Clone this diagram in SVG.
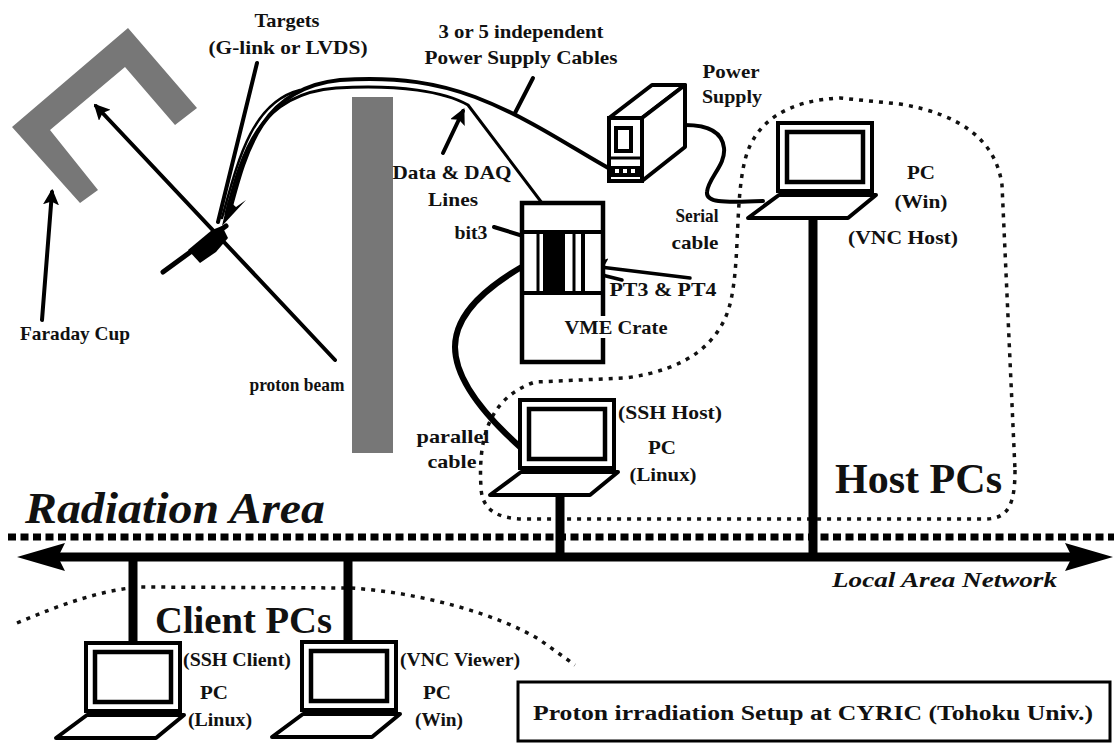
<svg xmlns="http://www.w3.org/2000/svg" xmlns:xlink="http://www.w3.org/1999/xlink" width="1114" height="743" viewBox="0 0 1114 743">
  <defs>
    <style>
      .lbl { font-family: "Liberation Serif", "Times New Roman", serif; font-weight: bold; font-size: 19px; fill: #111; text-anchor: middle; }
      .big { font-family: "Liberation Serif", "Times New Roman", serif; font-weight: bold; fill: #111; }
      .ln { fill: none; stroke: #000; stroke-linecap: round; stroke-linejoin: round; }
      .dot { fill: none; stroke: #111; stroke-width: 3.5; stroke-dasharray: 4 6; }
      .gray { fill: #777; }
    </style>
    <marker id="ah" viewBox="0 0 10 10" refX="8" refY="5" markerWidth="4" markerHeight="4" orient="auto" markerUnits="strokeWidth">
      <path d="M0,0 L10,5 L0,10 L2,5 Z" fill="#000"/>
    </marker>
    <marker id="ah-lg" viewBox="0 0 10 10" refX="8" refY="5" markerWidth="5.5" markerHeight="5.5" orient="auto" markerUnits="strokeWidth">
      <path d="M0,0 L10,5 L0,10 L2,5 Z" fill="#000"/>
    </marker>
    <!-- laptop icon: screen frame, inner screen, keyboard base -->
    <g id="laptop">
      <rect x="0" y="0" width="94" height="68" fill="#fff" stroke="#000" stroke-width="4"/>
      <rect x="9" y="9" width="76" height="50" fill="#fff" stroke="#000" stroke-width="4.5"/>
      <path d="M1,72 L98,72 L70,95 L-30,95 Z" fill="#fff" stroke="#000" stroke-width="4" stroke-linejoin="round"/>
    </g>
  </defs>

  <rect width="1114" height="743" fill="#fff"/>

  <!-- shielding wall -->
  <g id="wall">
    <rect class="gray" x="352" y="97" width="41" height="356"/>
  </g>

  <!-- Faraday cup -->
  <g id="faraday-cup">
    <polygon class="gray" points="12,127 128,28 197,108 175,125 125,67 50,130 98,190 80,203"/>
    <text class="lbl" x="75" y="340" textLength="110" lengthAdjust="spacingAndGlyphs">Faraday Cup</text>
  </g>

  <!-- region boundaries -->
  <g id="host-region">
    <path class="dot" d="M1015,470 C1015,505 1008,519 985,519 L525,519 C495,519 482,508 481,488 C478,440 488,398 535,382 L625,378 C688,370 722,342 731,300 C740,258 735,200 745,160 C755,120 790,100 840,98 L900,104 C960,114 996,140 1002,185 Z"/>
    <text class="big" x="835" y="493" font-size="42" textLength="167" lengthAdjust="spacingAndGlyphs">Host PCs</text>
  </g>
  <g id="client-region">
    <path class="dot" d="M17,623 C60,605 100,590 140,587 L350,588 C420,592 500,615 540,640 L575,665"/>
    <text class="big" x="155" y="633" font-size="38" textLength="177" lengthAdjust="spacingAndGlyphs">Client PCs</text>
  </g>
  <g id="radiation-area">
    <line x1="8" y1="537" x2="1114" y2="537" stroke="#000" stroke-width="7" stroke-dasharray="8 4.5"/>
    <text class="big" x="25" y="523" font-size="44" font-style="italic" textLength="300" lengthAdjust="spacingAndGlyphs">Radiation Area</text>
  </g>

  <!-- connectors -->
  <g id="connectors">
    <!-- cables from target -->
    <path class="ln" stroke-width="4" d="M230,210 C246,150 262,88 340,80 C400,76 440,84 475,97 C530,118 575,150 612,170"/>
    <path class="ln" stroke-width="3" d="M226,214 C242,152 258,94 336,88 C400,84 445,92 468,105 L573,244"/>
    <path class="ln" stroke-width="2.5" d="M222,218 C238,160 252,102 300,90"/>
    <polygon points="222,226 228,200 236,207 246,200" fill="#000"/>
    <!-- serial cable -->
    <path class="ln" stroke-width="4" d="M685,125 C705,125 722,130 724,148 C726,165 708,178 707,192 C706,202 720,203 763,201"/>
    <!-- parallel cable -->
    <path class="ln" stroke-width="6" d="M525,265 C490,285 455,312 455,347 C455,382 490,420 520,447"/>
    <!-- pointer lines -->
    <line class="ln" stroke-width="4" x1="257" y1="63" x2="218" y2="222"/>
    <line class="ln" stroke-width="4" x1="533" y1="78" x2="515" y2="113"/>
    <line class="ln" stroke-width="4" x1="443" y1="153" x2="463" y2="111" marker-end="url(#ah)"/>
    <line class="ln" stroke-width="4" x1="42" y1="320" x2="52" y2="192" marker-end="url(#ah)"/>
    <line class="ln" stroke-width="4" x1="335" y1="360" x2="96" y2="106" marker-end="url(#ah)"/>
    <line class="ln" stroke-width="4" x1="494" y1="227" x2="536" y2="240" marker-end="url(#ah)"/>
    <line class="ln" stroke-width="3.5" x1="690" y1="278" x2="592" y2="266" marker-end="url(#ah-lg)"/>
    <line class="ln" stroke-width="3.5" x1="622" y1="280" x2="574" y2="268" marker-end="url(#ah-lg)"/>
    <!-- LAN backbone and drops -->
    <line x1="55" y1="557" x2="1075" y2="557" stroke="#000" stroke-width="9"/>
    <polygon points="17,557 65,543 58,557 65,571" fill="#000"/>
    <polygon points="1113,557 1065,543 1072,557 1065,571" fill="#000"/>
    <line x1="813" y1="218" x2="813" y2="557" stroke="#000" stroke-width="9"/>
    <line x1="560" y1="495" x2="560" y2="557" stroke="#000" stroke-width="9"/>
    <line x1="133" y1="557" x2="133" y2="643" stroke="#000" stroke-width="9"/>
    <line x1="348" y1="557" x2="348" y2="642" stroke="#000" stroke-width="9"/>
    <text class="big" x="832" y="587" font-size="20" font-style="italic" textLength="225" lengthAdjust="spacingAndGlyphs">Local Area Network</text>
  </g>

  <!-- target on the beam line -->
  <g id="target">
    <line class="ln" stroke-width="5" x1="163" y1="272" x2="226" y2="226"/>
    <polygon points="188,250 212,230 222,226 228,238 216,252 200,263" fill="#000"/>
    <text class="lbl" x="287" y="27" textLength="65" lengthAdjust="spacingAndGlyphs">Targets</text>
    <text class="lbl" x="288" y="54" textLength="159" lengthAdjust="spacingAndGlyphs">(G-link or LVDS)</text>
    <text class="lbl" x="297" y="391" textLength="95" lengthAdjust="spacingAndGlyphs">proton beam</text>
  </g>

  <g id="cable-labels">
    <text class="lbl" x="521" y="38" textLength="165" lengthAdjust="spacingAndGlyphs">3 or 5 independent</text>
    <text class="lbl" x="521" y="64" textLength="193" lengthAdjust="spacingAndGlyphs">Power Supply Cables</text>
    <text class="lbl" x="452" y="179" textLength="119" lengthAdjust="spacingAndGlyphs">Data &amp; DAQ</text>
    <text class="lbl" x="453" y="206" textLength="50" lengthAdjust="spacingAndGlyphs">Lines</text>
    <text class="lbl" x="697" y="222" textLength="43" lengthAdjust="spacingAndGlyphs">Serial</text>
    <text class="lbl" x="695" y="249" textLength="47" lengthAdjust="spacingAndGlyphs">cable</text>
    <text class="lbl" x="453" y="443" textLength="73" lengthAdjust="spacingAndGlyphs">parallel</text>
    <text class="lbl" x="452" y="468" textLength="49" lengthAdjust="spacingAndGlyphs">cable</text>
  </g>

  <!-- power supply -->
  <g id="power-supply">
    <path d="M609,118 L652,85 L685,85 L642,118 Z" fill="#fff" stroke="#000" stroke-width="4" stroke-linejoin="round"/>
    <path d="M642,118 L685,85 L685,147 L642,181 Z" fill="#fff" stroke="#000" stroke-width="4" stroke-linejoin="round"/>
    <rect x="609" y="118" width="33" height="63" fill="#fff" stroke="#000" stroke-width="4"/>
    <rect x="616" y="128" width="15" height="23" fill="#fff" stroke="#000" stroke-width="4"/>
    <line x1="609" y1="158" x2="642" y2="158" stroke="#000" stroke-width="3"/>
    <rect x="611" y="166" width="29" height="11" fill="#000"/>
    <rect x="615" y="169" width="4" height="4" fill="#fff"/>
    <rect x="623" y="169" width="4" height="4" fill="#fff"/>
    <rect x="631" y="169" width="4" height="4" fill="#fff"/>
    <text class="lbl" x="731" y="78" textLength="57" lengthAdjust="spacingAndGlyphs">Power</text>
    <text class="lbl" x="732" y="103" textLength="60" lengthAdjust="spacingAndGlyphs">Supply</text>
  </g>

  <!-- VME crate -->
  <g id="vme-crate">
    <rect x="522" y="203" width="81" height="159" fill="#fff" stroke="#000" stroke-width="4.5"/>
    <line x1="522" y1="232" x2="603" y2="232" stroke="#000" stroke-width="4"/>
    <line x1="522" y1="293" x2="603" y2="293" stroke="#000" stroke-width="4"/>
    <line x1="538" y1="232" x2="538" y2="293" stroke="#000" stroke-width="3"/>
    <rect x="543" y="232" width="22" height="61" fill="#000"/>
    <line x1="574" y1="232" x2="574" y2="293" stroke="#000" stroke-width="3"/>
    <line x1="583" y1="232" x2="583" y2="293" stroke="#000" stroke-width="4"/>
    <text class="lbl" x="471" y="239" textLength="33" lengthAdjust="spacingAndGlyphs">bit3</text>
    <text class="lbl" x="663" y="296" textLength="107" lengthAdjust="spacingAndGlyphs">PT3 &amp; PT4</text>
    <rect x="563" y="316" width="108" height="22" fill="#fff"/>
    <text class="lbl" x="616" y="334" textLength="103" lengthAdjust="spacingAndGlyphs">VME Crate</text>
  </g>

  <!-- host PCs -->
  <g id="pc-win-host">
    <use xlink:href="#laptop" x="778" y="123"/>
    <text class="lbl" x="921" y="179" textLength="28" lengthAdjust="spacingAndGlyphs">PC</text>
    <text class="lbl" x="921" y="208" textLength="53" lengthAdjust="spacingAndGlyphs">(Win)</text>
    <text class="lbl" x="903" y="244" textLength="110" lengthAdjust="spacingAndGlyphs">(VNC Host)</text>
  </g>
  <g id="pc-linux-host">
    <use xlink:href="#laptop" x="520" y="400"/>
    <text class="lbl" x="670" y="419" textLength="104" lengthAdjust="spacingAndGlyphs">(SSH Host)</text>
    <text class="lbl" x="662" y="454" textLength="28" lengthAdjust="spacingAndGlyphs">PC</text>
    <text class="lbl" x="663" y="481" textLength="67" lengthAdjust="spacingAndGlyphs">(Linux)</text>
  </g>

  <!-- client PCs -->
  <g id="pc-linux-client">
    <use xlink:href="#laptop" x="86" y="643"/>
    <text class="lbl" x="237" y="666" textLength="108" lengthAdjust="spacingAndGlyphs">(SSH Client)</text>
    <text class="lbl" x="214" y="699" textLength="28" lengthAdjust="spacingAndGlyphs">PC</text>
    <text class="lbl" x="220" y="726" textLength="64" lengthAdjust="spacingAndGlyphs">(Linux)</text>
  </g>
  <g id="pc-win-client">
    <use xlink:href="#laptop" x="302" y="642"/>
    <text class="lbl" x="460" y="666" textLength="120" lengthAdjust="spacingAndGlyphs">(VNC Viewer)</text>
    <text class="lbl" x="437" y="699" textLength="28" lengthAdjust="spacingAndGlyphs">PC</text>
    <text class="lbl" x="439" y="726" textLength="48" lengthAdjust="spacingAndGlyphs">(Win)</text>
  </g>

  <!-- caption -->
  <g id="caption">
    <rect x="518" y="682" width="592" height="59" fill="#fff" stroke="#000" stroke-width="3"/>
    <text class="big" x="533" y="720" font-size="20" textLength="560" lengthAdjust="spacingAndGlyphs">Proton irradiation Setup at CYRIC (Tohoku Univ.)</text>
  </g>
</svg>
